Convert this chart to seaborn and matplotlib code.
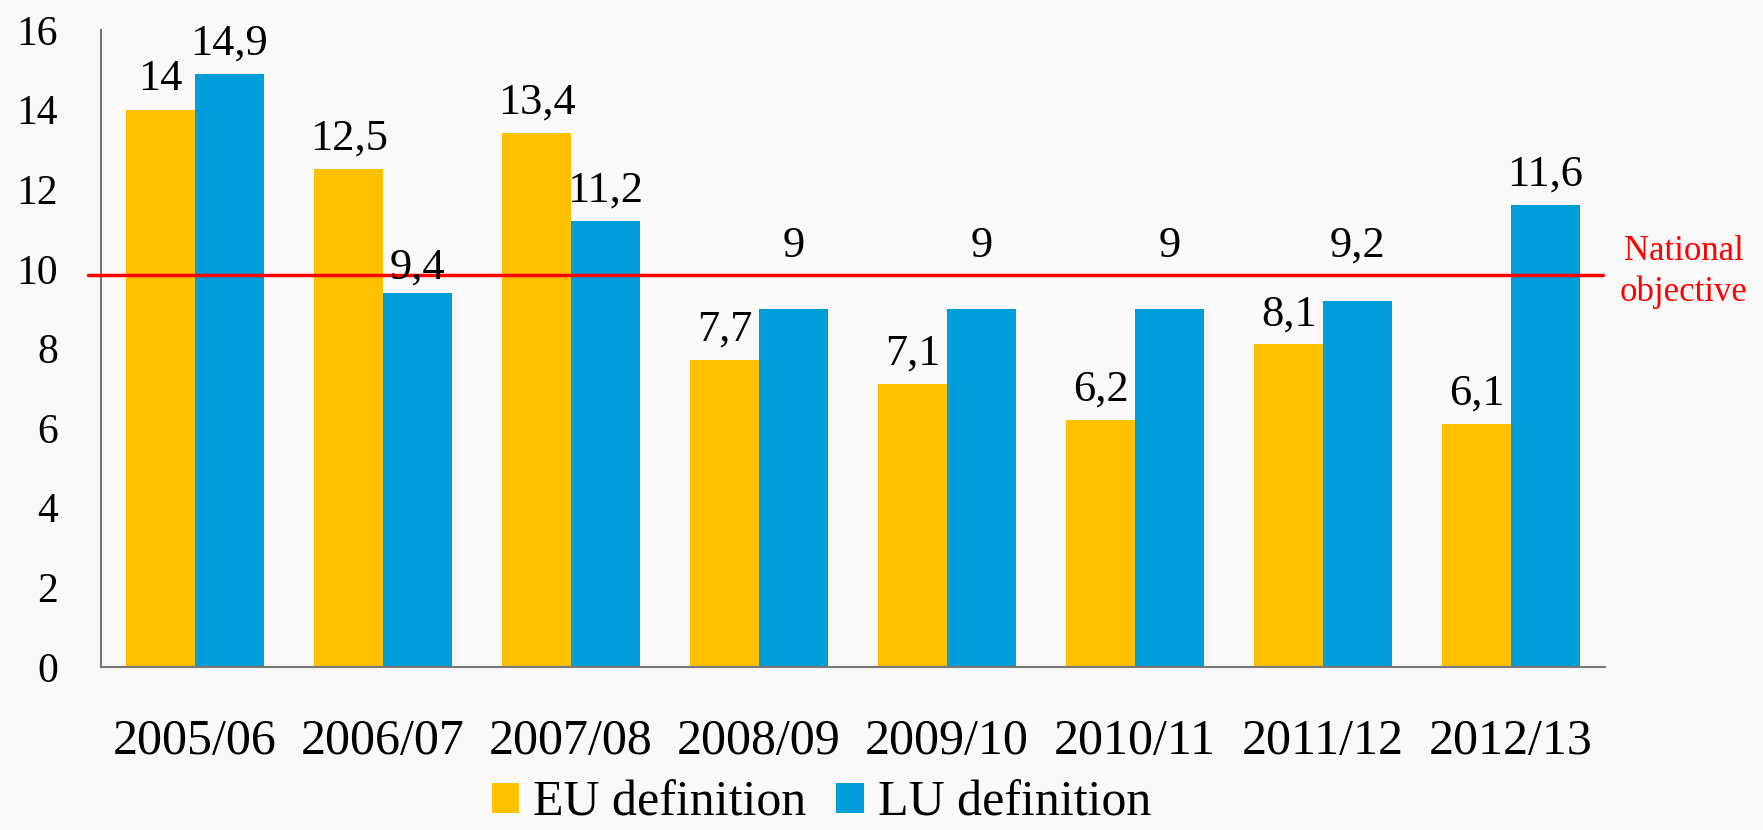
import pandas as pd
import numpy as np
import seaborn as sns
import matplotlib.pyplot as plt

# Data
categories = ['2005/06', '2006/07', '2007/08', '2008/09', '2009/10', '2010/11', '2011/12', '2012/13']
eu_values = [14, 12.5, 13.4, 7.7, 7.1, 6.2, 8.1, 6.1]
lu_values = [14.9, 9.4, 11.2, 9, 9, 9, 9.2, 11.6]
series_names = ['EU definition', 'LU definition']
series_colors = ['#FFC000', '#009DDA']
national_objective = 9.85
objective_label = 'National\nobjective'
y_ticks = [0, 2, 4, 6, 8, 10, 12, 14, 16]

# extra lift (points) for labels that were moved by hand around the red line
eu_label_lift = [0, 0, 0, 0, 0, 0, 0, 0]
lu_label_lift = [0, -4, 0, 23.5, 23.5, 23.5, 18, 0]

df = pd.DataFrame({
    'period': categories * 2,
    'share': eu_values + lu_values,
    'definition': [series_names[0]] * len(categories) + [series_names[1]] * len(categories),
})

sns.set_theme(style='white')
plt.rcParams['font.family'] = ['Liberation Serif', 'DejaVu Serif']
plt.rcParams['text.color'] = 'black'

bg = '#f9f9f9'
fig = plt.figure(figsize=(17.63, 8.30), dpi=100, facecolor=bg)
ax = fig.add_axes([0.0573, 0.1964, 0.8531, 0.7675], facecolor=bg)

sns.barplot(data=df, x='period', y='share', hue='definition', palette=series_colors,
            width=0.73, saturation=1, linewidth=0, ax=ax)

ax.set_xlim(-0.5, 7.5)
ax.set_ylim(0, 16)
ax.set_yticks(y_ticks)
ax.set_xlabel('')
ax.set_ylabel('')

sns.despine(ax=ax)
for side in ['left', 'bottom']:
    ax.spines[side].set_color('#777777')
    ax.spines[side].set_linewidth(1.5)

ax.tick_params(axis='y', length=0, pad=31, labelsize=30, labelcolor='black')
ax.tick_params(axis='x', length=0, pad=37, labelsize=36, labelcolor='black')

# national objective line
ax.plot([-0.57, 7.49], [national_objective, national_objective], color='#ff0000',
        lw=2.5, clip_on=False, zorder=4)
fig.text(0.955, 0.672, objective_label, color='#ff0000', fontsize=25,
         ha='center', va='center', linespacing=1.3)

# value labels
for container, lifts in zip(ax.containers, [eu_label_lift, lu_label_lift]):
    for bar, lift in zip(container, lifts):
        h = bar.get_height()
        txt = f'{h:g}'.replace('.', ',')
        ax.annotate(txt, (bar.get_x() + bar.get_width() / 2, h),
                    xytext=(0, 14 + lift), textcoords='offset points',
                    ha='center', va='baseline', fontsize=32, color='black',
                    annotation_clip=False, zorder=5)

handles, labels = ax.get_legend_handles_labels()
ax.legend_.remove()
fig.legend(handles, labels, loc='center', bbox_to_anchor=(0.466, 0.032), ncol=2,
           frameon=False, fontsize=36, labelcolor='black', handlelength=0.55,
           handleheight=0.55, handletextpad=0.28, columnspacing=0.6,
           borderpad=0, borderaxespad=0)

fig.savefig('out.png', dpi=100, facecolor=fig.get_facecolor())
